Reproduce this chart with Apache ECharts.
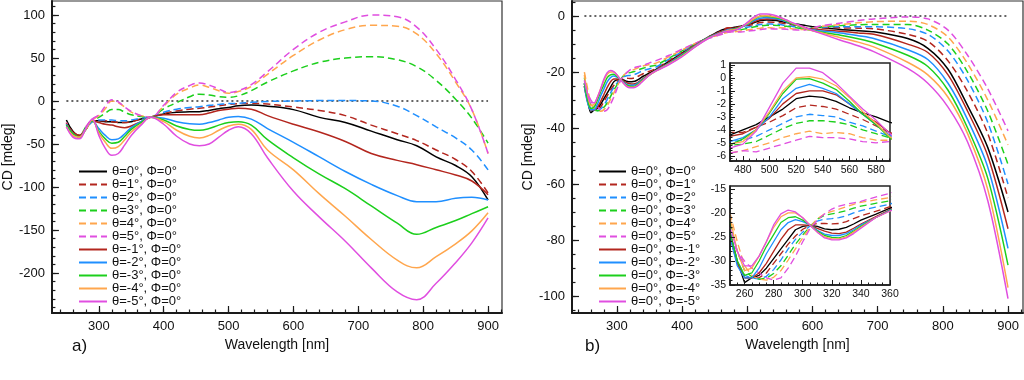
<!DOCTYPE html>
<html><head><meta charset="utf-8">
<script src="https://cdn.jsdelivr.net/npm/echarts@6/dist/echarts.min.js"></script>
<style>html,body{margin:0;padding:0;background:#fff}#c{width:1024px;height:380px}</style>
</head><body><div id="c"></div>
<script>
// ---------- Panel a data ----------
const WL_A = [250,260,270,280,290,300,310,320,330,340,350,365,380,400,420,440,455,470,485,500,515,535,560,600,640,680,720,760,790,820,850,875,900];
const A_T0  = [-22,-35,-40,-32,-23,-23,-24,-24,-25,-25,-24,-21,-18.6,-15,-13,-12.6,-12.4,-11,-9,-7.5,-5.5,-4.7,-6,-10,-19,-25,-35,-45,-52,-65,-75,-88,-115];
const A_T1  = [-28,-36,-40,-33,-24,-23,-23,-24,-25,-25,-24,-21,-18.6,-14.5,-11.5,-9.5,-8.5,-7,-5.5,-4,-3,-2.7,-3.5,-7,-11,-17,-28,-38,-46,-57,-68,-82,-107];
const A_T2  = [-28,-38,-41,-33,-24,-22,-22,-22,-23,-23,-22,-20,-18.6,-13,-9.5,-7.5,-6.6,-5,-4,-3,-2.7,-1.5,-0.5,0,0.5,0.5,0,-6,-17,-30,-43,-57,-80];
const A_T3  = [-27,-38,-40,-30,-22,-19,-14,-10,-10,-13,-16,-18,-18.6,-9,-2,5,8,7,5,4.3,6,12,22,35,45,50,51.5,48,40,24,2,-20,-49];
const A_T4  = [-25,-40,-41,-30,-22,-17,-9,0,-2,-7,-13,-17,-18.6,-6,8,15,18.6,16,12,9,11,17,31,53,71,83,88,87,78,55,22,-10,-61];
const A_T5  = [-25,-40,-42,-30,-21,-16,-6,1.5,-1,-7,-12,-17,-18.6,-5,10,18,21,18.5,14,10,12,19,34,60,80,92,100,98,86,60,25,-10,-61];
const A_TM1 = [-26,-36,-40,-32,-23,-25,-27,-28,-30,-31,-29,-24,-19,-16,-16,-16,-16,-14,-11,-9.5,-8.5,-9.5,-17,-27,-36,-47,-61,-69,-74,-80,-86,-93,-109];
const A_TM2 = [-27,-38,-42,-32,-23,-32,-40,-45,-44,-38,-31,-24,-19,-20,-24,-26.5,-27,-25,-22,-19,-18,-21,-32,-48,-65,-82,-97,-110,-117,-117,-113,-112,-115];
const A_TM3 = [-28,-38,-42,-33,-23,-35,-44,-49,-48,-41,-33,-25,-19,-22,-29,-33,-34,-32,-28,-25,-24,-28,-45,-66,-85,-102,-122,-142,-155,-147,-139,-131,-123];
const A_TM4 = [-30,-40,-42,-33,-22,-37,-48,-55,-53,-45,-36,-27,-19,-24,-34,-41,-43,-40,-34,-29,-27,-33,-57,-80,-108,-134,-161,-185,-194,-181,-166,-151,-130];
const A_TM5 = [-30,-42,-44,-32,-21,-40,-55,-63,-61,-51,-40,-28,-19,-27,-41,-50,-52,-50,-42,-34,-30,-38,-66,-105,-135,-163,-194,-222,-231,-212,-188,-165,-136];
const NAMES_A = ['θ=0°, Φ=0°','θ=1°, Φ=0°','θ=2°, Φ=0°','θ=3°, Φ=0°','θ=4°, Φ=0°','θ=5°, Φ=0°','θ=-1°, Φ=0°','θ=-2°, Φ=0°','θ=-3°, Φ=0°','θ=-4°, Φ=0°','θ=-5°, Φ=0°'];
const VALUES_A = [A_T0,A_T1,A_T2,A_T3,A_T4,A_T5,A_TM1,A_TM2,A_TM3,A_TM4,A_TM5];

// ---------- Panel b data (insets show the same data, zoomed) ----------
const WL_B = [250,255,260,265,270,275,280,285,290,295,300,305,310,315,320,325,330,335,340,350,360,380,400,420,440,460,470,480,490,500,510,520,530,540,550,560,570,580,590,610,643,670,694,746,777,808,838,869,900];
const B_P0 = [-24,-30,-34.5,-33.5,-33,-31.5,-29.5,-27.5,-25.5,-23.5,-22.8,-22.6,-22.8,-23.3,-23.5,-23.4,-23,-22.3,-21.5,-20.3,-19,-16.2,-13.2,-10.2,-7.5,-5.0,-4.4,-4.0,-3.6,-3.0,-2.4,-1.6,-1.4,-1.5,-1.8,-2.3,-2.7,-3.0,-3.4,-4.0,-4.8,-5.2,-5.6,-8.0,-11.5,-19,-32,-47,-70];
const B_P1 = [-25,-30.5,-33.5,-33.5,-33.5,-32.5,-30.5,-28.5,-26.5,-24.8,-23.4,-22.6,-22.2,-22.2,-22.3,-22.2,-21.8,-21.2,-20.6,-19.7,-18.7,-15.8,-13.0,-10.1,-7.6,-5.3,-4.2,-4.2,-3.8,-3.4,-2.9,-2.3,-2.1,-2.2,-2.4,-2.8,-3.2,-3.7,-4.2,-4.2,-4.2,-4.3,-4.5,-6.5,-9,-16,-27,-42,-65];
const B_P2 = [-24,-30,-33,-33.5,-33.8,-33.2,-31.8,-29.8,-27.5,-25.5,-24,-22.7,-21.7,-21.3,-21.2,-21,-20.6,-20,-19.5,-18.8,-18.2,-15.4,-12.7,-10.0,-7.7,-5.7,-4.9,-4.8,-4.5,-4.0,-3.5,-3.0,-2.8,-2.9,-3.0,-3.4,-3.7,-4.1,-4.5,-4.0,-3.8,-3.8,-3.8,-4.5,-6.5,-12.5,-23,-38,-60];
const B_P3 = [-22,-28,-32,-33.3,-33.8,-33.6,-32.6,-31,-28.8,-26.5,-24.6,-22.8,-21.3,-20.5,-20.2,-19.9,-19.5,-19,-18.6,-18,-17.5,-15.0,-12.4,-9.9,-7.8,-6.0,-5.2,-5.1,-4.9,-4.4,-3.9,-3.5,-3.3,-3.3,-3.4,-3.6,-4.0,-4.3,-4.6,-3.9,-3.4,-3.1,-3.0,-3.0,-5,-10,-20,-34,-53];
const B_P4 = [-20,-26,-31,-33,-33.8,-34,-33.4,-32,-29.8,-27.5,-25.2,-23,-21.2,-20.2,-19.7,-19.2,-18.7,-18.2,-17.8,-17.3,-16.8,-14.5,-12.1,-9.8,-7.9,-6.5,-5.8,-5.6,-5.3,-5.0,-4.6,-4.3,-4.1,-4.3,-4.2,-4.3,-4.6,-4.8,-4.8,-3.8,-3.0,-2.4,-2.0,-1.8,-3,-7.5,-17,-30,-46];
const B_P5 = [-25,-28,-30,-31.5,-32.5,-33.5,-34,-33.5,-31.5,-29,-26,-23.3,-21.5,-20.2,-19.2,-18.6,-18.2,-17.9,-17.6,-16.7,-15.9,-14.0,-11.8,-9.7,-8.0,-6.6,-5.8,-5.6,-5.7,-5.4,-5.1,-4.8,-4.5,-4.6,-4.6,-4.7,-4.9,-5.0,-4.9,-3.6,-2.5,-1.6,-1.0,-0.3,-1,-5,-14,-26,-41];
const B_M1 = [-25,-30.5,-33.5,-33.5,-32.5,-30.5,-28,-25.5,-23.5,-22.5,-22.5,-22.6,-23.2,-23.8,-24.2,-24.3,-24,-23.2,-22.3,-20.8,-19.3,-16.6,-13.5,-10.4,-7.6,-5.6,-4.5,-4.3,-3.8,-3.1,-2.0,-1.2,-1.0,-1.0,-1.3,-2.0,-2.8,-3.4,-4.2,-4.8,-5.4,-6.0,-6.5,-10,-13,-21,-34,-50,-76];
const B_M2 = [-25,-31,-33.5,-33.5,-31.5,-28.5,-26,-23.5,-22,-21.4,-21.8,-22.5,-23.6,-24.4,-24.7,-24.7,-24.3,-23.5,-22.5,-21,-19.4,-16.8,-13.8,-10.6,-7.7,-5.8,-4.9,-4.6,-4.0,-3.0,-1.6,-0.8,-0.5,-0.8,-1.2,-2.0,-2.8,-3.6,-4.4,-5.2,-6.0,-7.0,-8.0,-12,-15.5,-24,-37,-54,-83];
const B_M3 = [-24,-30,-33,-32.5,-30,-27,-24.5,-22,-21,-20.8,-21.5,-22.5,-23.8,-24.7,-25.1,-25.2,-24.7,-23.8,-22.8,-21,-19.5,-17.0,-14.0,-10.8,-7.8,-5.9,-5.2,-4.7,-4.0,-2.7,-1.2,-0.1,-0.05,-0.4,-0.9,-1.8,-2.8,-3.6,-4.6,-5.6,-6.8,-8.1,-9.5,-14,-18,-26.5,-40,-58,-89];
const B_M4 = [-21,-28,-32,-31.5,-29,-26,-23,-20.8,-20,-20,-21,-22.5,-24,-25,-25.4,-25.4,-25,-24,-23,-21,-19.6,-17.1,-14.3,-10.9,-7.9,-6.0,-5.1,-4.9,-4.0,-2.6,-1.0,0,0.1,-0.1,-0.6,-1.5,-2.6,-3.5,-4.5,-5.8,-7.7,-9.3,-11,-16.5,-21,-29,-42,-62,-97];
const B_M5 = [-23,-28,-31,-31,-29,-26,-22.5,-20.2,-19.4,-19.8,-21,-22.6,-24,-25.2,-25.6,-25.6,-25.2,-24.3,-23.2,-21,-19.6,-17.3,-14.5,-11.0,-8.0,-6.0,-5.4,-5.1,-4.1,-2.25,-0.4,0.75,0.75,0.4,-0.4,-1.4,-2.4,-3.25,-4.25,-6.0,-8.6,-10.6,-12.7,-18.7,-24,-32.5,-45,-66,-101];
const NAMES_B = ['θ=0°, Φ=0°','θ=0°, Φ=1°','θ=0°, Φ=2°','θ=0°, Φ=3°','θ=0°, Φ=4°','θ=0°, Φ=5°','θ=0°, Φ=-1°','θ=0°, Φ=-2°','θ=0°, Φ=-3°','θ=0°, Φ=-4°','θ=0°, Φ=-5°'];
const VALUES_B = [B_P0,B_P1,B_P2,B_P3,B_P4,B_P5,B_M1,B_M2,B_M3,B_M4,B_M5];

// ---------- tick labels ----------
const A_X_TICKS = [300,400,500,600,700,800,900];
const A_Y_TICKS = [-200,-150,-100,-50,0,50,100];
const B_X_TICKS = [300,400,500,600,700,800,900];
const B_Y_TICKS = [-100,-80,-60,-40,-20,0];
const I1_X_TICKS = [480,500,520,540,560,580];
const I1_Y_TICKS = [-6,-5,-4,-3,-2,-1,0,1];
const I2_X_TICKS = [260,280,300,320,340,360];
const I2_Y_TICKS = [-35,-30,-25,-20,-15];
const ZERO_LINE = [[250,0],[900,0]];

// ---------- styles ----------
const COLORS = ['#000000','#b3261e','#1f8fff','#1ccf1c','#ffa64d','#e04ee0','#b3261e','#1f8fff','#1ccf1c','#ffa64d','#e04ee0'];
const DASHED = [false,true,true,true,true,true,false,false,false,false,false];
const FONT = '"Liberation Sans", Arial, Helvetica, sans-serif';

function range(a, b, s) { const r = []; for (let i = 0; a + i * s <= b + 1e-9; i++) r.push(Math.round((a + i * s) * 1000) / 1000); return r; }

function makeAxes(dim, gridIndex, min, max, major, minor, o) {
  const base = { type: 'value', gridIndex, min, max, position: dim === 'x' ? 'bottom' : 'left', z: o.z, silent: true, splitLine: { show: false } };
  const maj = Object.assign({}, base, {
    axisLine: { show: true, onZero: false, lineStyle: { color: '#1a1a1a', width: o.lineW } },
    axisTick: { show: true, inside: true, length: o.majLen, customValues: major, lineStyle: { color: '#1a1a1a', width: o.tickW } },
    axisLabel: { show: true, customValues: major, color: '#111', fontSize: o.fs, fontFamily: FONT, margin: o.margin }
  });
  if (o.name) {
    Object.assign(maj, { name: o.name, nameLocation: 'middle', nameGap: o.nameGap, nameRotate: dim === 'y' ? 90 : 0,
      nameTextStyle: { color: '#111', fontSize: 14, fontFamily: FONT } });
  }
  const mnr = Object.assign({}, base, {
    axisLine: { show: false, onZero: false },
    axisTick: { show: true, inside: true, length: o.minLen, customValues: minor, lineStyle: { color: '#1a1a1a', width: o.tickW } },
    axisLabel: { show: false }
  });
  return [maj, mnr];
}

const mainOpt = { z: 1, lineW: 2, tickW: 1.2, majLen: 7, minLen: 3.5, fs: 13, margin: 7 };
const insetOpt = { z: 7, lineW: 1.5, tickW: 1, majLen: 5, minLen: 2.5, fs: 10.5, margin: 4 };

const xAxis = [].concat(
  makeAxes('x', 0, 227.7, 921.5, A_X_TICKS, range(240, 920, 20), Object.assign({ name: 'Wavelength [nm]', nameGap: 22 }, mainOpt)),
  makeAxes('x', 1, 231, 923, B_X_TICKS, range(240, 920, 20), Object.assign({ name: 'Wavelength [nm]', nameGap: 22 }, mainOpt)),
  makeAxes('x', 2, 470.3, 590.5, I1_X_TICKS, range(475, 590, 5), insetOpt),
  makeAxes('x', 3, 250, 360, I2_X_TICKS, range(255, 360, 5), insetOpt)
);
const yAxis = [].concat(
  makeAxes('y', 0, -246.5, 116.3, A_Y_TICKS, range(-240, 110, 10), Object.assign({ name: 'CD [mdeg]', nameGap: 34 }, mainOpt)),
  makeAxes('y', 1, -106.1, 5.4, B_Y_TICKS, range(-105, 5, 5), Object.assign({ name: 'CD [mdeg]', nameGap: 36 }, mainOpt)),
  makeAxes('y', 2, -6.4, 1.15, I1_Y_TICKS, range(-6.4, 1.1, 0.2), insetOpt),
  makeAxes('y', 3, -35, -14.4, I2_Y_TICKS, range(-35, -15, 1), insetOpt)
);

const grid = [
  { left: 51, top: 1, width: 451, height: 312, show: true, borderColor: '#333', borderWidth: 1.2, backgroundColor: 'transparent' },
  { left: 572, top: 1, width: 451, height: 312, show: true, borderColor: '#333', borderWidth: 1.2, backgroundColor: 'transparent' },
  { left: 730, top: 63, width: 160, height: 98, show: true, borderColor: '#222', borderWidth: 1.5, backgroundColor: '#fff', z: 5 },
  { left: 730, top: 186, width: 160, height: 99, show: true, borderColor: '#222', borderWidth: 1.5, backgroundColor: '#fff', z: 5 }
];

function lineSeries(name, wl, vals, i, axisIdx, width, smooth, z) {
  return {
    type: 'line', name, xAxisIndex: axisIdx, yAxisIndex: axisIdx, z,
    data: wl.map((w, k) => [w, vals[k]]), symbol: 'none', smooth, clip: true, animation: false,
    lineStyle: { color: COLORS[i], width, type: DASHED[i] ? [7, 4] : 'solid' },
    itemStyle: { color: COLORS[i] }, emphasis: { disabled: true }
  };
}

const series = [];
series.push({ type: 'line', name: 'zero-a', xAxisIndex: 0, yAxisIndex: 0, data: ZERO_LINE, symbol: 'none', silent: true,
  lineStyle: { color: '#333', width: 1.5, type: [2, 3] }, z: 1 });
series.push({ type: 'line', name: 'zero-b', xAxisIndex: 2, yAxisIndex: 2, data: ZERO_LINE, symbol: 'none', silent: true,
  lineStyle: { color: '#333', width: 1.5, type: [2, 3] }, z: 1 });
VALUES_A.forEach((v, i) => series.push(lineSeries(NAMES_A[i], WL_A, v, i, 0, 1.5, 0.4, 2)));
VALUES_B.forEach((v, i) => series.push(lineSeries(NAMES_B[i], WL_B, v, i, 2, 1.5, 0.3, 2)));
VALUES_B.forEach((v, i) => series.push(lineSeries(NAMES_B[i], WL_B, v, i, 4, 1.3, false, 6)));
VALUES_B.forEach((v, i) => series.push(lineSeries(NAMES_B[i], WL_B, v, i, 6, 1.3, false, 6)));

const legendBase = { orient: 'vertical', padding: 0, itemWidth: 28, itemHeight: 12.3, itemGap: 0, selectedMode: false,
  itemStyle: { color: 'rgba(0,0,0,0)', borderColor: 'rgba(0,0,0,0)', borderWidth: 0 },
  lineStyle: { width: 2 },
  textStyle: { color: '#111', fontSize: 13, lineHeight: 12, fontFamily: FONT } };

const option = {
  animation: false,
  backgroundColor: '#fff',
  grid, xAxis, yAxis, series,
  legend: [
    Object.assign({ left: 78, top: 165, data: NAMES_A }, legendBase),
    Object.assign({ left: 598, top: 165, data: NAMES_B }, legendBase, { itemWidth: 27 })
  ],
  graphic: [
    { type: 'text', left: 72, top: 338, style: { text: 'a)', fontSize: 17, fontFamily: FONT, fill: '#111' } },
    { type: 'text', left: 585, top: 338, style: { text: 'b)', fontSize: 17, fontFamily: FONT, fill: '#111' } }
  ]
};
const chart = echarts.init(document.getElementById('c'), null, { renderer: 'canvas' });
chart.setOption(option);
</script></body></html>
